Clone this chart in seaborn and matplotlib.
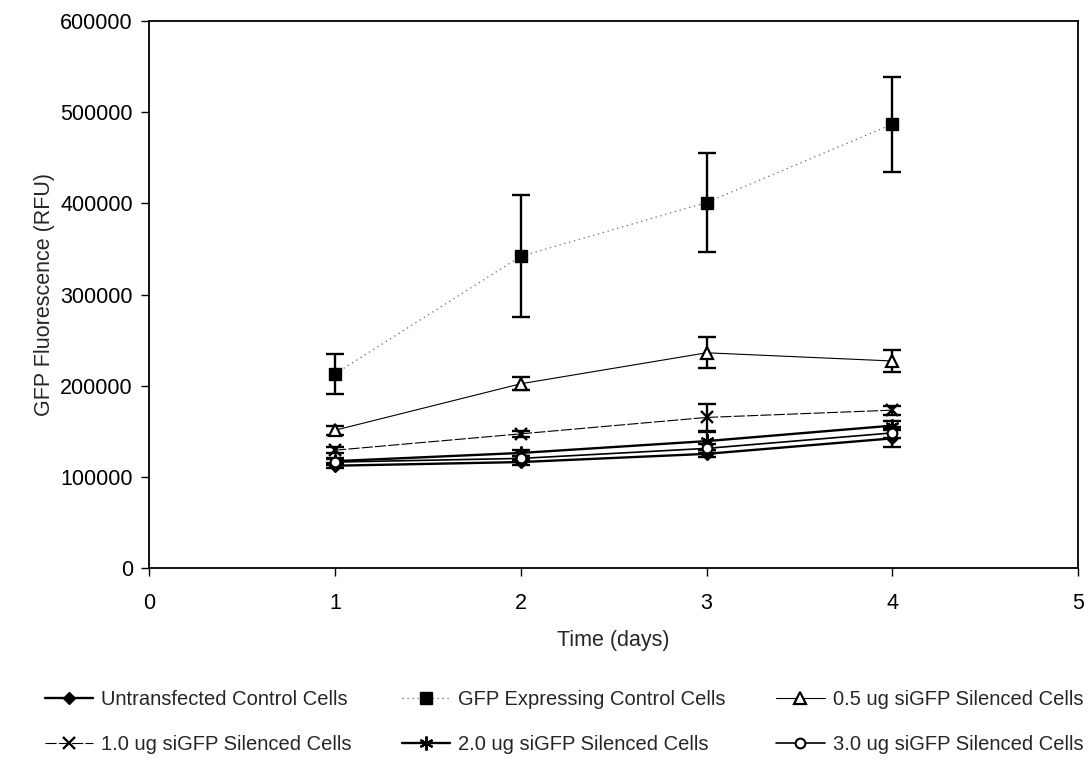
import matplotlib
matplotlib.use("Agg")
import matplotlib.pyplot as plt
import seaborn as sns
import pandas as pd
import numpy as np

days = [1, 2, 3, 4]
series_names = [
    "Untransfected Control Cells",
    "GFP Expressing Control Cells",
    "0.5 ug siGFP Silenced Cells",
    "1.0 ug siGFP Silenced Cells",
    "2.0 ug siGFP Silenced Cells",
    "3.0 ug siGFP Silenced Cells",
]
untransfected = [112000, 116000, 125000, 142000]
untransfected_err = [3000, 3000, 4000, 10000]
gfp_control = [213000, 342000, 401000, 487000]
gfp_control_err = [22000, 67000, 54000, 52000]
si_05 = [151000, 202000, 236000, 227000]
si_05_err = [5000, 7000, 17000, 12000]
si_10 = [129000, 147000, 165000, 173000]
si_10_err = [3000, 3000, 15000, 5000]
si_20 = [117000, 126000, 139000, 156000]
si_20_err = [3000, 3000, 10000, 5000]
si_30 = [116000, 120000, 131000, 148000]
si_30_err = [3000, 3000, 5000, 6000]

values = [untransfected, gfp_control, si_05, si_10, si_20, si_30]
errors = [untransfected_err, gfp_control_err, si_05_err, si_10_err, si_20_err, si_30_err]

df = pd.DataFrame({
    "day": days * len(series_names),
    "value": [v for vals in values for v in vals],
    "series": [n for n in series_names for _ in days],
})

sns.set_theme(style="white")
plt.rcParams["font.family"] = ["Liberation Sans", "DejaVu Sans"]

fig = plt.figure(figsize=(10.91, 7.63), dpi=100)
ax = fig.add_axes([0.137, 0.256, 0.851, 0.716])

styles = {
    series_names[0]: dict(marker="D", ms=6, mfc="black", ls="-", lw=1.7, color="black", mew=1.0),
    series_names[1]: dict(marker="s", ms=8.5, mfc="black", ls=(0, (1, 3)), lw=0.9, color="#666666", mew=1.0),
    series_names[2]: dict(marker="^", ms=8, mfc="white", ls="-", lw=0.8, color="black", mew=1.6),
    series_names[3]: dict(marker="x", ms=8, mfc="black", ls=(0, (10, 2)), lw=0.8, color="black", mew=1.7),
    series_names[4]: dict(marker=(6, 2, 0), ms=10, mfc="black", ls="-", lw=1.7, color="black", mew=1.6),
    series_names[5]: dict(marker="o", ms=7, mfc="white", ls="-", lw=1.2, color="black", mew=1.5),
}

handles = {}
for name, vals, errs in zip(series_names, values, errors):
    st = styles[name]
    sub = df[df["series"] == name]
    ax.errorbar(days, vals, yerr=errs, fmt="none", ecolor="black", elinewidth=1.7,
                capsize=6.5, capthick=1.7, zorder=2)
    sns.lineplot(data=sub, x="day", y="value", ax=ax, color=st["color"],
                 linestyle=st["ls"], linewidth=st["lw"], marker=st["marker"],
                 markersize=st["ms"], markerfacecolor=st["mfc"], markeredgecolor="black",
                 markeredgewidth=st["mew"], label=name, zorder=3, legend=False)
    handles[name] = ax.lines[-1]

ax.set_xlim(0, 5)
ax.set_ylim(0, 600000)
ax.set_xticks([0, 1, 2, 3, 4, 5])
ax.set_yticks(np.arange(0, 600001, 100000))
ax.set_xticklabels([str(t) for t in [0, 1, 2, 3, 4, 5]])
ax.set_yticklabels([str(t) for t in range(0, 600001, 100000)])
ax.tick_params(axis="both", which="both", direction="out", length=6, width=1,
               colors="black", labelsize=15.5, bottom=True, left=True)
ax.tick_params(axis="x", pad=12)
ax.tick_params(axis="y", pad=6)
for sp in ax.spines.values():
    sp.set_color("black")
    sp.set_linewidth(1.3)
ax.set_xlabel("Time (days)", fontsize=15.5, labelpad=12)
ax.set_ylabel("GFP Fluorescence (RFU)", fontsize=15.5, labelpad=4)

order = [series_names[0], series_names[3], series_names[1], series_names[4],
         series_names[2], series_names[5]]
fig.legend([handles[n] for n in order], order, loc="lower center",
           bbox_to_anchor=(0.517, -0.012), ncol=3, frameon=False, fontsize=14.5,
           handlelength=2.4, columnspacing=2.5, handletextpad=0.4, labelspacing=1.3)

fig.savefig("out.png", dpi=100)
